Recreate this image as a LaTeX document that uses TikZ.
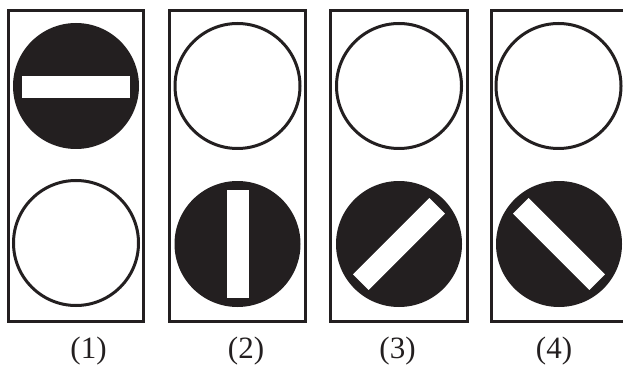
\documentclass[tikz,border=0pt]{standalone}
\usepackage{fontspec}
\setmainfont{Liberation Serif}
\definecolor{ink}{HTML}{231F20}
\begin{document}
\begin{tikzpicture}[x=1pt,y=-1pt,
  frame/.style={draw=ink,line width=3pt},
  lampoff/.style={draw=ink,line width=3pt,fill=white},
  lampon/.style={fill=ink},
  slot/.style={fill=white},
  lbl/.style={anchor=base,inner sep=0pt,font=\fontsize{31}{31}\selectfont,text=ink}]
\useasboundingbox (0,0) rectangle (623,366);
\begin{scope}
\clip (0,0) rectangle (623,366);
% frames
\draw[frame] (8.5,11) rectangle (143.5,321.5);
\draw[frame] (169,11) rectangle (305.5,321.5);
\draw[frame] (330,11) rectangle (467,321.5);
\draw[frame] (491,11) rectangle (628,321.5);
% panel 1
\fill[lampon] (76,86) circle (63);
\fill[slot] (22,76) rectangle (130,98);
\draw[lampoff] (76,243) circle (62.5);
% panel 2
\draw[lampoff] (237.5,86) circle (62.5);
\fill[lampon] (237.5,244) circle (63);
\fill[slot] (226.5,190) rectangle (248.5,298);
% panel 3
\draw[lampoff] (399,86) circle (62.5);
\fill[lampon] (399,244) circle (63);
\fill[slot,rotate around={45:(399,244)}] (345,233) rectangle (453,255);
% panel 4
\draw[lampoff] (558.5,86) circle (62.5);
\fill[lampon] (559,244) circle (63);
\fill[slot,rotate around={-45:(559,244)}] (505,233) rectangle (613,255);
\end{scope}
% labels
\node[lbl] (l1) at (88.5,358.5) {(1)};
\node[lbl] (l2) at (246,358.5) {(2)};
\node[lbl] (l3) at (397.5,358.5) {(3)};
\node[lbl] (l4) at (554,358.5) {(4)};
\end{tikzpicture}
\end{document}
